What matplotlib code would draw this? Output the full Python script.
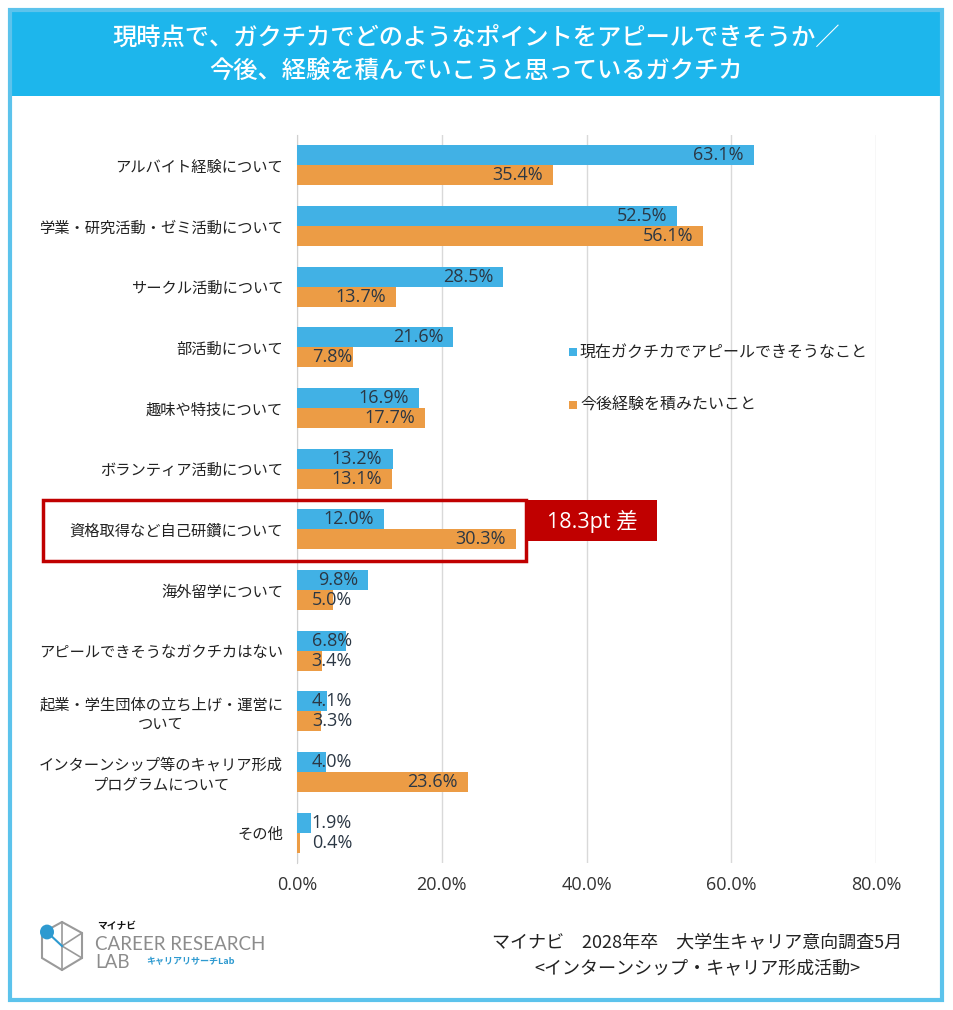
import numpy as np
import matplotlib.pyplot as plt
from matplotlib.patches import Rectangle, Polygon, Circle
from matplotlib.lines import Line2D

plt.rcParams['font.family'] = ['Noto Sans CJK JP', 'DejaVu Sans']
NUMFONT = ['Open Sans', 'Noto Sans CJK JP']

categories = [
    'アルバイト経験について',
    '学業・研究活動・ゼミ活動について',
    'サークル活動について',
    '部活動について',
    '趣味や特技について',
    'ボランティア活動について',
    '資格取得など自己研鑽について',
    '海外留学について',
    'アピールできそうなガクチカはない',
    '起業・学生団体の立ち上げ・運営に\nついて',
    'インターンシップ等のキャリア形成\nプログラムについて',
    'その他',
]
now_vals = [63.1, 52.5, 28.5, 21.6, 16.9, 13.2, 12.0, 9.8, 6.8, 4.1, 4.0, 1.9]
future_vals = [35.4, 56.1, 13.7, 7.8, 17.7, 13.1, 30.3, 5.0, 3.4, 3.3, 23.6, 0.4]
series_names = ['現在ガクチカでアピールできそうなこと', '今後経験を積みたいこと']
xticks = [0, 20, 40, 60, 80]
highlight_idx = 6

BLUE = '#41B1E5'
ORANGE = '#EC9C45'
RED = '#C00000'
BAND = '#1DB6EC'

W, H = 954, 1010
fig = plt.figure(figsize=(W / 100, H / 100), dpi=100)


def fx(x):
    return x / W


def fy(y):
    return 1 - y / H


# outer frame and title band
fig.patches.append(Rectangle((fx(10), fy(1000)), fx(932), 990 / H, transform=fig.transFigure,
                             facecolor='none', edgecolor='#5CC3EC', linewidth=3, zorder=5))
fig.patches.append(Rectangle((fx(11), fy(96)), fx(930), 86 / H, transform=fig.transFigure,
                             facecolor=BAND, edgecolor='none'))
fig.text(fx(476), fy(38), '現時点で、ガクチカでどのようなポイントをアピールできそうか／',
         ha='center', va='center', color='white', fontsize=17.5, fontweight='medium')
fig.text(fx(476), fy(72), '今後、経験を積んでいこうと思っているガクチカ',
         ha='center', va='center', color='white', fontsize=17.5, fontweight='medium')

ax = fig.add_axes([fx(297), fy(863), fx(579), 728 / H])
ax.patch.set_alpha(0)
y = np.arange(len(categories))
h = 0.33
ax.barh(y - h / 2, now_vals, height=h, color=BLUE, label=series_names[0], zorder=3)
ax.barh(y + h / 2, future_vals, height=h, color=ORANGE, label=series_names[1], zorder=3)

for i in range(len(categories)):
    for v, off in ((now_vals[i], -h / 2), (future_vals[i], h / 2)):
        ax.text(max(v - 1.4, 7.6), y[i] + off, f'{v:.1f}%', ha='right', va='center',
                fontsize=13, color='#2B3744', zorder=4, family=NUMFONT)

ax.set_xlim(0, 80)
ax.set_ylim(len(categories) - 0.5, -0.5)
ax.set_xticks(xticks)
ax.set_xticklabels([f'{t:.1f}%' for t in xticks], fontsize=13, color='#333333', family=NUMFONT)
ax.set_yticks(y)
ax.set_yticklabels(categories, fontsize=11, color='#222222', multialignment='center')
ax.tick_params(axis='both', length=0)
ax.tick_params(axis='y', pad=10)
ax.tick_params(axis='x', pad=9)
ax.grid(axis='x', color='#D9D9D9', linewidth=1, zorder=0)
for s in ['top', 'right', 'bottom']:
    ax.spines[s].set_visible(False)
ax.spines['left'].set_color('#D0D0D0')

# legend
for k, (name, col) in enumerate(zip(series_names, [BLUE, ORANGE])):
    yy = 352 + k * 53
    fig.patches.append(Rectangle((fx(569), fy(yy + 4)), fx(8), 8 / H, transform=fig.transFigure,
                                 facecolor=col, edgecolor='none'))
    fig.text(fx(580), fy(yy), name, ha='left', va='center', fontsize=11.5, color='#222222')

# highlight box
fig.patches.append(Rectangle((fx(43), fy(561)), fx(483), 61 / H, transform=fig.transFigure,
                             facecolor='none', edgecolor=RED, linewidth=2.5, zorder=10))
fig.patches.append(Rectangle((fx(528), fy(541)), fx(129), 41 / H, transform=fig.transFigure,
                             facecolor=RED, edgecolor='none', zorder=10))
diff = future_vals[highlight_idx] - now_vals[highlight_idx]
fig.text(fx(592), fy(521), f'{diff:.1f}pt 差', ha='center', va='center', color='white',
         fontsize=15.5, zorder=11, family=NUMFONT)

# footer
fig.text(fx(697), fy(942), 'マイナビ　2028年卒　大学生キャリア意向調査5月', ha='center', va='center',
         fontsize=13, color='#222222')
fig.text(fx(697), fy(968), '<インターンシップ・キャリア形成活動>', ha='center', va='center',
         fontsize=13, color='#222222')

# logo
hexpts = [(62, 922), (82, 933), (82, 958), (62, 970), (42, 958), (42, 933)]
fig.patches.append(Polygon([(fx(a), fy(b)) for a, b in hexpts], closed=True, transform=fig.transFigure,
                           facecolor='none', edgecolor='#9A9A9A', linewidth=1.5))
for (a, b), (c, d) in [((62, 946), (82, 958)), ((62, 946), (62, 970)), ((62, 922), (62, 946)),
                       ((62, 946), (82, 933))]:
    fig.add_artist(Line2D([fx(a), fx(c)], [fy(b), fy(d)], color='#9A9A9A', linewidth=1.2))
fig.add_artist(Line2D([fx(47), fx(62)], [fy(932), fy(946)], color='#2E9AD0', linewidth=1.5))
fig.patches.append(Circle((fx(47), fy(932)), 7 / W, transform=fig.transFigure,
                          facecolor='#2E9AD0', edgecolor='none'))
fig.text(fx(97), fy(926), 'マイナビ', ha='left', va='center', fontsize=7, fontweight='bold', color='#111111')
fig.text(fx(95), fy(944), 'CAREER RESEARCH', ha='left', va='center', fontsize=13.5,
         color='#8C8C8C', family=['Lato', 'DejaVu Sans'])
fig.text(fx(95), fy(962), 'LAB', ha='left', va='center', fontsize=13.5,
         color='#8C8C8C', family=['Lato', 'DejaVu Sans'])
fig.text(fx(146), fy(962), 'キャリアリサーチLab', ha='left', va='center', fontsize=6.5,
         fontweight='bold', color='#2E9AD0')

fig.savefig('out.png', dpi=100)
